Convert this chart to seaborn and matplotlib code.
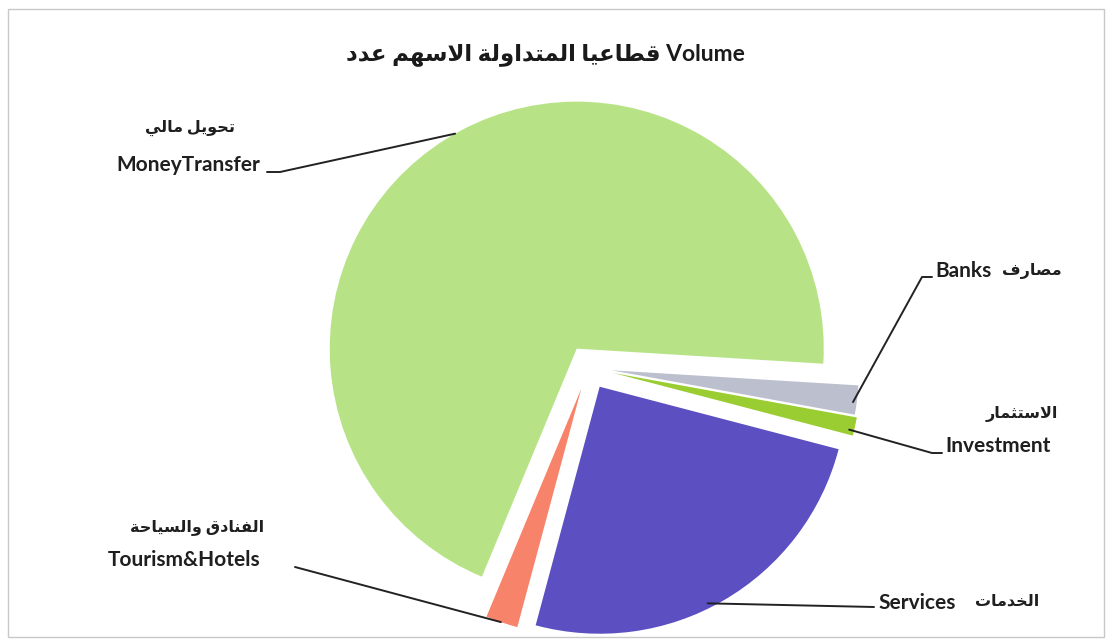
import numpy as np
import matplotlib
matplotlib.use("Agg")
import matplotlib.pyplot as plt
import seaborn as sns
from matplotlib.patches import Rectangle

# --- data (share of traded volume, in %) ---
sectors = ["Banks", "Investment", "Services", "Tourism&Hotels", "MoneyTransfer"]
sectors_ar = ["مصارف", "الاستثمار", "الخدمات", "الفنادق والسياحة", "تحويل مالي"]
volume_share = [1.9, 1.2, 25.1, 2.1, 69.7]
colors = ["#bcbfcd", "#9acd32", "#5b4fc2", "#f8836b", "#b7e386"]
explode = [0.095, 0.105, 0.09, 0.09, 0.09]   # fraction of radius
title_words_ar = ["عدد", "الاسهم", "المتداولة", "قطاعيا"]
title_en = "Volume"

# --- tiny arabic shaper (matplotlib has no text shaping / bidi) ---
DUAL = {'ت': 0xFE95, 'ث': 0xFE99, 'ح': 0xFEA1, 'خ': 0xFEA5, 'س': 0xFEB1,
        'ص': 0xFEB9, 'ط': 0xFEC1, 'ع': 0xFEC9, 'ف': 0xFED1, 'ق': 0xFED5,
        'ل': 0xFEDD, 'م': 0xFEE1, 'ن': 0xFEE5, 'ه': 0xFEE9, 'ي': 0xFEF1}
RIGHT = {'ا': 0xFE8D, 'ة': 0xFE93, 'د': 0xFEA9, 'ر': 0xFEAD, 'و': 0xFEED}


def ar(text):
    toks = []
    i = 0
    while i < len(text):
        if text[i] == 'ل' and i + 1 < len(text) and text[i + 1] == 'ا':
            toks.append('LA')
            i += 2
        else:
            toks.append(text[i])
            i += 1
    is_ar = lambda t: t in DUAL or t in RIGHT or t == 'LA'
    out = []
    for k, t in enumerate(toks):
        if not is_ar(t):
            out.append(t)
            continue
        prev = toks[k - 1] if k > 0 else None
        nxt = toks[k + 1] if k + 1 < len(toks) else None
        p = prev in DUAL
        q = t in DUAL and nxt is not None and is_ar(nxt)
        if t == 'LA':
            out.append(chr(0xFEFC if p else 0xFEFB))
        elif t in RIGHT:
            out.append(chr(RIGHT[t] + (1 if p else 0)))
        else:
            out.append(chr(DUAL[t] + (3 if p and q else 2 if q else 1 if p else 0)))
    return ''.join(reversed(out))


sns.set_style("white")
FONT = ['Lato', 'DejaVu Sans']
plt.rcParams['font.family'] = FONT

W, H = 1112, 643
fig = plt.figure(figsize=(W / 100, H / 100), dpi=100)
ax = fig.add_axes([0, 0, 1, 1])

# pixel-like data coords, y measured from the top
C = (588.5, H - 367.5)
R = 247
wedges, _ = ax.pie(volume_share, colors=colors, explode=[e * R for e in explode],
                   startangle=-3.5, counterclock=False, center=C, radius=R,
                   frame=True, wedgeprops=dict(linewidth=0))
ax.set_xlim(0, W)
ax.set_ylim(0, H)
ax.set_aspect('equal')
ax.axis('off')

ax.add_patch(Rectangle((8, H - 637), 1096, 628, fill=False, edgecolor='#c8c8c8', lw=1.0))

# title as it appears in the picture: arabic words left to right, then "Volume"
title = " ".join(ar(w) for w in title_words_ar) + " " + title_en
ax.text(545, H - 55, title, ha='center', va='center', fontsize=16.5,
        fontweight='bold', color='#1a1a1a')


def anchor(i, ang, f):
    w = wedges[i]
    a = np.deg2rad(ang)
    return w.center[0] + w.r * f * np.cos(a), w.center[1] + w.r * f * np.sin(a)


lab = dict(fontweight='bold', color='#1f1f1f')
LC = '#222222'
# MoneyTransfer
ax.text(190, H - 128, ar(sectors_ar[4]), ha='center', va='center', fontsize=11.5, **lab)
ax.text(188, H - 165, sectors[4], ha='center', va='center', fontsize=15, **lab)
mx, my = anchor(4, 119.5, 1.0)
ax.plot([267, 280, mx], [H - 172, H - 172, my], color=LC, lw=1.4)

# Banks
ax.text(935, H - 271, sectors[0], ha='left', va='center', fontsize=15, **lab)
ax.text(1062, H - 271, ar(sectors_ar[0]), ha='right', va='center', fontsize=11.5, **lab)
bx, by = anchor(0, -7.5, 0.985)
ax.plot([932, 922, bx], [H - 277, H - 277, by], color=LC, lw=1.4)

# Investment
ax.text(1022, H - 414, ar(sectors_ar[1]), ha='center', va='center', fontsize=11.5, **lab)
ax.text(945, H - 446, sectors[1], ha='left', va='center', fontsize=15, **lab)
ix, iy = anchor(1, -13.5, 0.98)
ax.plot([942, 932, ix], [H - 453, H - 453, iy], color=LC, lw=1.4)

# Tourism & Hotels
ax.text(197, H - 527, ar(sectors_ar[3]), ha='center', va='center', fontsize=11.5, **lab)
ax.text(184, H - 560, sectors[3], ha='center', va='center', fontsize=15, **lab)
tx, ty = anchor(3, 251, 1.0)
ax.plot([295, tx], [H - 567, ty], color=LC, lw=1.4)

# Services
ax.text(878, H - 603, sectors[2], ha='left', va='center', fontsize=15, **lab)
ax.text(1039, H - 602, ar(sectors_ar[2]), ha='right', va='center', fontsize=11.5, **lab)
sx, sy = anchor(2, -63.5, 0.98)
ax.plot([sx, 874], [sy, H - 607], color=LC, lw=1.4)

fig.savefig("out.png", dpi=100, facecolor='white')
